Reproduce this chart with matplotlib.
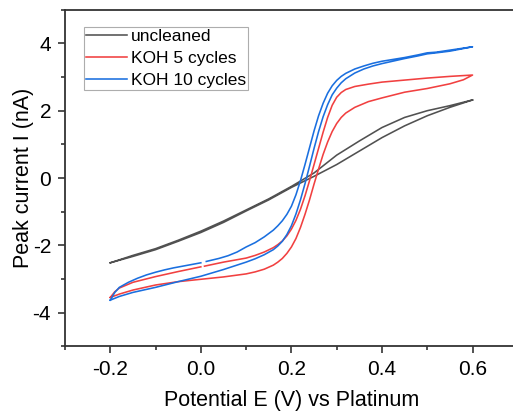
import numpy as np
import matplotlib
matplotlib.use("Agg")
import matplotlib.pyplot as plt
from matplotlib.ticker import MultipleLocator

plt.rcParams['font.family'] = ['Liberation Sans', 'DejaVu Sans']
plt.rcParams['axes.unicode_minus'] = False

# ---- cyclic voltammograms: potential (V) and current (nA) for each sweep ----
# uncleaned electrode
e_unc_fwd = [-0.20, -0.15, -0.10, -0.05, 0.00, 0.05, 0.10, 0.15, 0.20, 0.25,
             0.30, 0.35, 0.40, 0.45, 0.50, 0.55, 0.60]
i_unc_fwd = [-2.52, -2.30, -2.10, -1.85, -1.58, -1.28, -0.95, -0.62, -0.25, 0.15,
             0.68, 1.10, 1.50, 1.80, 2.00, 2.15, 2.32]
e_unc_rev = [0.60, 0.55, 0.50, 0.45, 0.40, 0.35, 0.30, 0.25, 0.20, 0.15,
             0.10, 0.05, 0.00, -0.05, -0.10, -0.15, -0.20]
i_unc_rev = [2.32, 2.10, 1.85, 1.55, 1.20, 0.80, 0.40, 0.05, -0.28, -0.65,
             -0.98, -1.32, -1.62, -1.88, -2.13, -2.33, -2.52]

# KOH, 5 cleaning cycles
e_k5_fwd = [-0.20, -0.19, -0.18, -0.15, -0.10, -0.05, 0.00, np.nan, 0.008, 0.05,
            0.10, 0.12, 0.14, 0.16, 0.17, 0.18, 0.19, 0.20, 0.21, 0.22, 0.23,
            0.24, 0.25, 0.26, 0.27, 0.28, 0.29, 0.30, 0.31, 0.32, 0.34, 0.37,
            0.40, 0.45, 0.50, 0.55, 0.60]
i_k5_fwd = [-3.55, -3.38, -3.27, -3.10, -2.93, -2.78, -2.64, np.nan, -2.62, -2.50,
            -2.38, -2.30, -2.20, -2.07, -1.98, -1.87, -1.72, -1.52, -1.26, -0.93, -0.53,
            -0.08, 0.40, 0.88, 1.36, 1.80, 2.16, 2.40, 2.54, 2.63, 2.72, 2.79,
            2.85, 2.91, 2.97, 3.02, 3.06]
e_k5_rev = [0.60, 0.58, 0.55, 0.50, 0.45, 0.40, 0.37, 0.34, 0.32, 0.31, 0.30,
            0.29, 0.28, 0.27, 0.26, 0.25, 0.24, 0.23, 0.22, 0.21, 0.20, 0.19,
            0.18, 0.17, 0.16, 0.14, 0.12, 0.10, 0.05, 0.00, -0.05, -0.10, -0.15,
            -0.18, -0.20]
i_k5_rev = [3.06, 2.92, 2.80, 2.66, 2.55, 2.38, 2.27, 2.10, 1.93, 1.80, 1.62,
            1.38, 1.07, 0.70, 0.27, -0.18, -0.65, -1.08, -1.47, -1.80, -2.05, -2.24,
            -2.39, -2.50, -2.59, -2.71, -2.79, -2.85, -2.94, -3.01, -3.08, -3.18, -3.33,
            -3.45, -3.55]

# KOH, 10 cleaning cycles
e_k10_fwd = [-0.20, -0.19, -0.18, -0.16, -0.14, -0.12, -0.10, -0.08, -0.06, -0.04,
             -0.02, 0.00, np.nan, 0.012, 0.04, 0.06, 0.08, 0.10, 0.12, 0.14, 0.16,
             0.17, 0.18, 0.19, 0.20, 0.21, 0.22, 0.23, 0.24, 0.25, 0.26, 0.27,
             0.28, 0.29, 0.30, 0.31, 0.32, 0.34, 0.36, 0.38, 0.40, 0.45, 0.48,
             0.50, 0.52, 0.55, 0.60]
i_k10_fwd = [-3.63, -3.40, -3.25, -3.10, -2.98, -2.88, -2.80, -2.73, -2.67, -2.62,
             -2.57, -2.52, np.nan, -2.48, -2.39, -2.31, -2.20, -2.05, -1.92, -1.75, -1.55,
             -1.42, -1.27, -1.08, -0.84, -0.50, -0.08, 0.40, 0.90, 1.40, 1.85, 2.22,
             2.52, 2.74, 2.90, 3.02, 3.11, 3.24, 3.33, 3.41, 3.47, 3.58, 3.66,
             3.72, 3.74, 3.80, 3.90]
e_k10_rev = [0.60, 0.55, 0.52, 0.50, 0.48, 0.45, 0.40, 0.38, 0.36, 0.34, 0.32,
             0.31, 0.30, 0.29, 0.28, 0.27, 0.26, 0.25, 0.24, 0.23, 0.22, 0.21,
             0.20, 0.19, 0.18, 0.17, 0.16, 0.14, 0.12, 0.10, 0.05, 0.00, -0.05,
             -0.10, -0.15, -0.18, -0.20]
i_k10_rev = [3.90, 3.77, 3.72, 3.69, 3.63, 3.55, 3.40, 3.33, 3.24, 3.12, 2.95,
             2.83, 2.67, 2.47, 2.18, 1.82, 1.38, 0.88, 0.35, -0.17, -0.65, -1.07,
             -1.42, -1.68, -1.88, -2.02, -2.13, -2.28, -2.40, -2.50, -2.72, -2.92, -3.08,
             -3.25, -3.40, -3.52, -3.63]

labels = ["uncleaned", "KOH 5 cycles", "KOH 10 cycles"]
colors = ["#515151", "#F14040", "#1A6FDF"]

fig = plt.figure(figsize=(5.13, 4.12), dpi=100)
ax = fig.add_axes([0.1267, 0.1596, 0.8827, 0.8167])

curves = [
    (e_unc_fwd + [np.nan] + e_unc_rev, i_unc_fwd + [np.nan] + i_unc_rev),
    (e_k5_fwd + e_k5_rev, i_k5_fwd + i_k5_rev),
    (e_k10_fwd + e_k10_rev, i_k10_fwd + i_k10_rev),
]
for (e, i), lab, col in zip(curves, labels, colors):
    ax.plot(e, i, color=col, lw=1.15, label=lab, solid_joinstyle='round')

ax.set_xlim(-0.3, 0.7)
ax.set_ylim(-5, 5)
ax.xaxis.set_minor_locator(MultipleLocator(0.1))
ax.yaxis.set_major_locator(MultipleLocator(2))
ax.yaxis.set_minor_locator(MultipleLocator(1))
ax.set_xticks([-0.2, 0.0, 0.2, 0.4, 0.6])
ax.set_xticklabels(["-0.2", "0.0", "0.2", "0.4", "0.6"])

for s in ax.spines.values():
    s.set_linewidth(1.3)
    s.set_color("#333333")
ax.tick_params(which='both', direction='out', top=False, right=False,
               width=1.2, colors='#333333', labelcolor='black', labelsize=15)
ax.tick_params(which='major', length=5, pad=5)
ax.tick_params(which='minor', length=3)

ax.set_xlabel("Potential E (V) vs Platinum", fontsize=15.5, labelpad=8)
ax.set_ylabel("Peak current I (nA)", fontsize=15.5, labelpad=-1)

leg = ax.legend(loc='upper left', bbox_to_anchor=(0.042, 0.949), borderaxespad=0,
                fontsize=12.5, frameon=True, fancybox=False, handlelength=2.35,
                handletextpad=0.22, borderpad=0.12, labelspacing=0.38)
leg.get_frame().set_edgecolor('#999999')
leg.get_frame().set_linewidth(0.8)

fig.savefig("out.png", dpi=100)
